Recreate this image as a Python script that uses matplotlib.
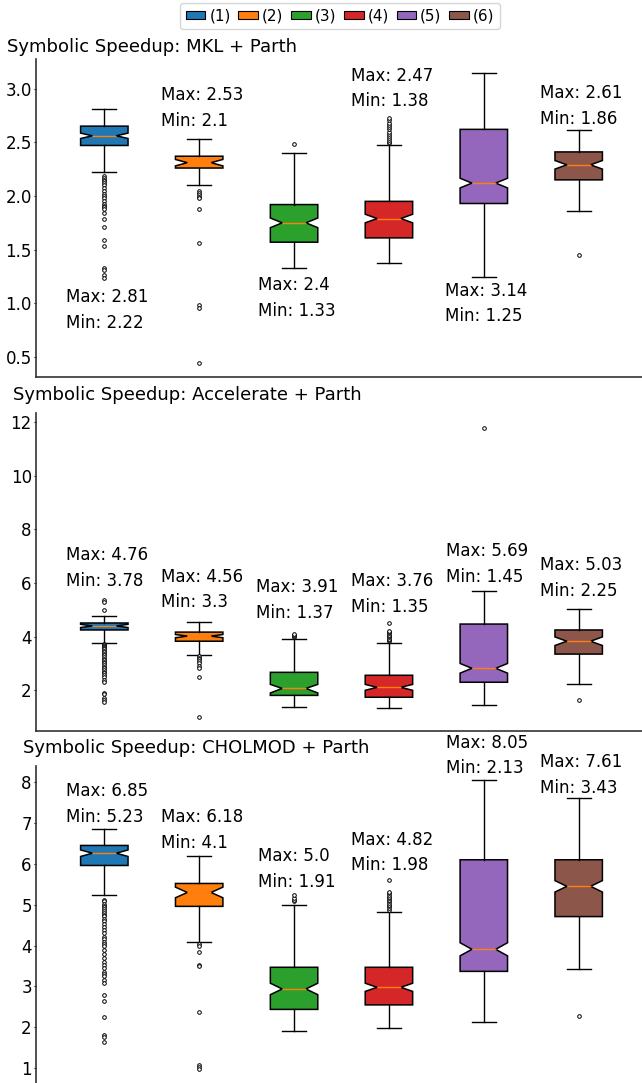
import matplotlib
matplotlib.use("Agg")
import matplotlib.pyplot as plt
from matplotlib.patches import Patch
from matplotlib.ticker import MultipleLocator

# --- data ---
labels = ['(1)', '(2)', '(3)', '(4)', '(5)', '(6)']
colors = ['#1f77b4', '#ff7f0e', '#2ca02c', '#d62728', '#9467bd', '#8c564b']

titles = ['Symbolic Speedup: MKL + Parth',
          'Symbolic Speedup: Accelerate + Parth',
          'Symbolic Speedup: CHOLMOD + Parth']

# MKL
mkl_med = [2.56, 2.31, 1.75, 1.79, 2.12, 2.29]
mkl_q1 = [2.47, 2.26, 1.57, 1.61, 1.93, 2.15]
mkl_q3 = [2.65, 2.37, 1.92, 1.95, 2.62, 2.41]
mkl_min = [2.22, 2.1, 1.33, 1.38, 1.25, 1.86]
mkl_max = [2.81, 2.53, 2.4, 2.47, 3.14, 2.61]
mkl_cilo = [2.535, 2.28, 1.705, 1.75, 2.075, 2.25]
mkl_cihi = [2.585, 2.34, 1.795, 1.83, 2.165, 2.33]
mkl_fliers = [
    [2.19, 2.17, 2.15, 2.14, 2.12, 2.10, 2.07, 2.05, 2.02, 2.00, 1.98, 1.95,
     1.93, 1.91, 1.90, 1.88, 1.84, 1.79, 1.71, 1.59, 1.53, 1.33, 1.31, 1.26, 1.24],
    [2.05, 2.03, 2.01, 1.99, 1.98, 1.88, 1.56, 0.99, 0.96, 0.45],
    [2.48],
    [2.49, 2.50, 2.52, 2.54, 2.56, 2.58, 2.60, 2.62, 2.64, 2.66, 2.68, 2.71, 2.73],
    [],
    [1.45],
]

# Accelerate
acc_med = [4.40, 4.02, 2.07, 2.11, 2.82, 3.83]
acc_q1 = [4.25, 3.83, 1.81, 1.74, 2.30, 3.35]
acc_q3 = [4.51, 4.17, 2.67, 2.56, 4.47, 4.25]
acc_min = [3.78, 3.3, 1.37, 1.35, 1.45, 2.25]
acc_max = [4.76, 4.56, 3.91, 3.76, 5.69, 5.03]
acc_cilo = [4.34, 3.96, 1.90, 2.00, 2.64, 3.67]
acc_cihi = [4.46, 4.08, 2.22, 2.22, 3.00, 3.99]
acc_fliers = [
    [5.35, 5.28, 5.0, 3.74, 3.70, 3.66, 3.62, 3.58, 3.54, 3.48, 3.42, 3.36,
     3.30, 3.24, 3.18, 3.12, 3.06, 3.00, 2.94, 2.88, 2.82, 2.76, 2.70, 2.64,
     2.56, 2.48, 2.40, 2.32, 1.90, 1.85, 1.70, 1.62, 1.55],
    [3.27, 3.22, 3.17, 3.10, 3.02, 2.92, 2.85, 2.50, 1.02],
    [3.97, 4.02, 4.07, 4.10],
    [3.82, 3.87, 3.92, 3.97, 4.02, 4.07, 4.12, 4.17, 4.22, 4.50],
    [11.8],
    [1.62],
]

# CHOLMOD
chol_med = [6.26, 5.30, 2.94, 2.98, 3.91, 5.45]
chol_q1 = [5.96, 4.96, 2.44, 2.55, 3.37, 4.71]
chol_q3 = [6.45, 5.52, 3.47, 3.47, 6.10, 6.10]
chol_min = [5.23, 4.1, 1.91, 1.98, 2.13, 3.43]
chol_max = [6.85, 6.18, 5.0, 4.82, 8.05, 7.61]
chol_cilo = [6.18, 5.17, 2.80, 2.88, 3.75, 5.31]
chol_cihi = [6.34, 5.43, 3.08, 3.08, 4.07, 5.59]
chol_fliers = [
    [5.12, 5.08, 5.03, 4.98, 4.94, 4.90, 4.85, 4.80, 4.76, 4.72, 4.66, 4.60,
     4.52, 4.45, 4.38, 4.30, 4.22, 4.15, 4.10, 4.05, 3.98, 3.90, 3.80, 3.70,
     3.60, 3.52, 3.45, 3.35, 3.30, 3.25, 3.15, 3.08, 2.78, 2.65, 2.25, 1.82,
     1.76, 1.65],
    [4.04, 3.99, 3.85, 3.53, 3.49, 2.37, 1.08, 1.04, 0.98],
    [5.08, 5.12, 5.16, 5.24],
    [4.88, 4.92, 4.96, 5.00, 5.04, 5.08, 5.12, 5.16, 5.20, 5.24, 5.28, 5.32, 5.60],
    [],
    [2.27],
]

# --- layout ---
ann_y = [[0.94, 2.82, 1.05, 3.0, 1.0, 2.84],
         [6.57, 5.76, 5.37, 5.6, 6.70, 6.19],
         [7.47, 6.82, 5.87, 6.28, 8.65, 8.18]]
tick_step = [0.5, 2, 1]
ax_bottoms = [0.6519, 0.3250, -0.0005]
title_pos = [(7, 47), (13, 395), (23, 748)]

panels = [
    (mkl_med, mkl_q1, mkl_q3, mkl_min, mkl_max, mkl_cilo, mkl_cihi, mkl_fliers),
    (acc_med, acc_q1, acc_q3, acc_min, acc_max, acc_cilo, acc_cihi, acc_fliers),
    (chol_med, chol_q1, chol_q3, chol_min, chol_max, chol_cilo, chol_cihi, chol_fliers),
]

plt.rcParams['font.family'] = ['DejaVu Sans']
W, H = 642, 1083
fig = plt.figure(figsize=(W / 100, H / 100), dpi=100)
pos = list(range(1, 7))

for k, (med, q1, q3, lo, hi, cilo, cihi, fl) in enumerate(panels):
    ax = fig.add_axes([36 / W, ax_bottoms[k], 611 / W, 0.2936])
    stats = []
    for i in range(6):
        stats.append(dict(med=med[i], q1=q1[i], q3=q3[i], whislo=lo[i],
                          whishi=hi[i], cilo=cilo[i], cihi=cihi[i],
                          fliers=fl[i]))
    bp = ax.bxp(stats, positions=pos, widths=0.5, shownotches=True,
                patch_artist=True,
                boxprops=dict(edgecolor='black', linewidth=1.1),
                whiskerprops=dict(color='black', linewidth=1.0),
                capprops=dict(color='black', linewidth=1.0),
                medianprops=dict(color='#ff7f0e', linewidth=1.0),
                flierprops=dict(marker='o', markersize=2.6, markerfacecolor='white',
                                markeredgecolor='black', markeredgewidth=0.7))
    for patch, c in zip(bp['boxes'], colors):
        patch.set_facecolor(c)

    for i in range(6):
        ax.text(pos[i] + 0.03, ann_y[k][i], f"Max: {hi[i]}\nMin: {lo[i]}",
                ha='center', va='center', multialignment='left',
                fontsize=12, linespacing=1.55)

    ax.set_xlim(0.28, 6.72)
    ax.set_xticks([])
    ax.yaxis.set_major_locator(MultipleLocator(tick_step[k]))
    ax.tick_params(axis='y', length=1.5, pad=1.5, labelsize=12)
    ax.spines['top'].set_visible(False)
    ax.spines['right'].set_visible(False)
    for s in ['left', 'bottom']:
        ax.spines[s].set_color('#333333')
        ax.spines[s].set_linewidth(1.2)

    fig.text(title_pos[k][0] / W, 1 - title_pos[k][1] / H, titles[k],
             fontsize=13, ha='left', va='center')

handles = [Patch(facecolor=c, edgecolor='black', linewidth=0.8) for c in colors]
fig.legend(handles, labels, loc='upper center', bbox_to_anchor=(340 / W, 1 - 3 / H),
           ncol=6, fontsize=11, handlelength=1.3, handleheight=0.45,
           handletextpad=0.25, columnspacing=0.5, borderpad=0.35,
           borderaxespad=0.0, frameon=True, fancybox=True, edgecolor='#cccccc')

fig.savefig('out.png', dpi=100)
